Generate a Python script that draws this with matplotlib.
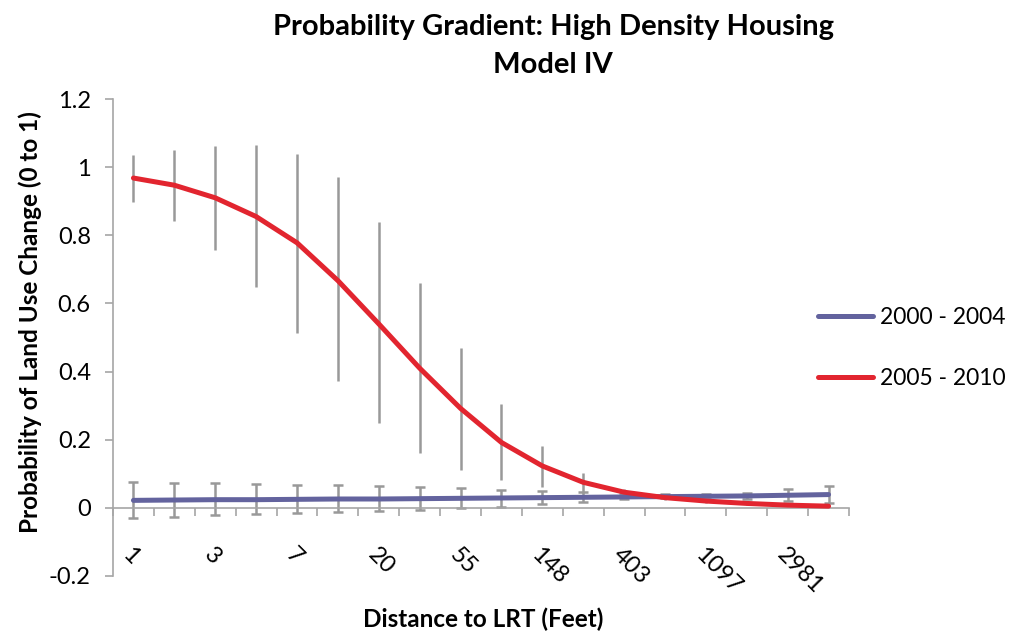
import matplotlib.pyplot as plt
from matplotlib.ticker import FixedLocator

# Distance categories (every second label shown on the axis)
categories = ["1", "2", "3", "4", "7", "12", "20", "33", "55", "90",
              "148", "245", "403", "665", "1097", "1808", "2981", "4915"]

# 2000 - 2004
blue_mean = [0.022, 0.023, 0.024, 0.024, 0.025, 0.026, 0.026, 0.027, 0.028,
             0.029, 0.030, 0.031, 0.032, 0.033, 0.034, 0.035, 0.037, 0.039]
blue_hi = [0.075, 0.073, 0.072, 0.070, 0.068, 0.066, 0.064, 0.061, 0.057,
           0.053, 0.050, 0.047, 0.042, 0.040, 0.040, 0.045, 0.054, 0.065]
blue_lo = [-0.030, -0.026, -0.022, -0.018, -0.015, -0.012, -0.008, -0.005, 0.000,
           0.003, 0.010, 0.016, 0.025, 0.030, 0.032, 0.025, 0.019, 0.015]

# 2005 - 2010
red_mean = [0.968, 0.947, 0.910, 0.855, 0.778, 0.667, 0.540, 0.410, 0.292,
            0.192, 0.123, 0.075, 0.046, 0.030, 0.020, 0.013, 0.008, 0.005]
red_hi = [1.037, 1.050, 1.062, 1.064, 1.040, 0.970, 0.840, 0.660, 0.470,
          0.305, 0.182, 0.102, 0.055, 0.036, 0.025, 0.017, 0.011, 0.007]
red_lo = [0.897, 0.843, 0.758, 0.648, 0.514, 0.372, 0.250, 0.160, 0.110,
          0.082, 0.062, 0.045, 0.036, 0.024, 0.015, 0.009, 0.005, 0.003]

plt.rcParams["font.family"] = ["Lato", "DejaVu Sans"]

BLUE = "#63639E"
RED = "#E2252F"
GREY = "#999999"

fig = plt.figure(figsize=(10.13, 6.44), dpi=100)
ax = fig.add_axes([113 / 1013, 68 / 644, 736 / 1013, 477 / 644])

x = list(range(len(categories)))

# error bars first, lines on top
ax.errorbar(x, red_mean,
            yerr=[[m - lo for m, lo in zip(red_mean, red_lo)],
                  [hi - m for m, hi in zip(red_mean, red_hi)]],
            fmt="none", ecolor=GREY, elinewidth=1.8, capsize=0, zorder=2)
ax.errorbar(x, blue_mean,
            yerr=[[m - lo for m, lo in zip(blue_mean, blue_lo)],
                  [hi - m for m, hi in zip(blue_mean, blue_hi)]],
            fmt="none", ecolor=GREY, elinewidth=1.8, capsize=3.8,
            capthick=1.8, zorder=2)
ax.plot(x, blue_mean, color=BLUE, lw=3.6, solid_capstyle="round",
        label="2000 - 2004", zorder=3)
ax.plot(x, red_mean, color=RED, lw=3.6, solid_capstyle="round",
        label="2005 - 2010", zorder=4)

ax.set_xlim(-0.5, len(categories) - 0.5)
ax.set_ylim(-0.2, 1.2)
ax.set_yticks([-0.2, 0, 0.2, 0.4, 0.6, 0.8, 1, 1.2])
ax.set_yticklabels(["-0.2", "0", "0.2", "0.4", "0.6", "0.8", "1", "1.2"])

ax.spines["top"].set_visible(False)
ax.spines["right"].set_visible(False)
ax.spines["bottom"].set_position(("data", 0))
for s in ("left", "bottom"):
    ax.spines[s].set_color("#A6A6A6")
    ax.spines[s].set_linewidth(1.2)

# category labels every second point, tick marks between categories
ax.set_xticks(x[::2])
ax.set_xticklabels(categories[::2], rotation=-45, ha="left", va="top",
                   rotation_mode="anchor")
ax.xaxis.set_minor_locator(FixedLocator([i - 0.5 for i in range(len(categories) + 1)]))
ax.tick_params(axis="x", which="major", length=0, pad=26, labelsize=17)
ax.tick_params(axis="x", which="minor", length=6, width=1.2, color="#A6A6A6",
               direction="out")
ax.tick_params(axis="y", length=6, width=1.2, color="#A6A6A6", pad=10,
               labelsize=17)

fig.text(0.546, 0.958, "Probability Gradient: High Density Housing",
         ha="center", va="center", fontsize=21, fontweight="bold")
fig.text(0.546, 0.899, "Model IV", ha="center", va="center",
         fontsize=21, fontweight="bold")
fig.text(0.477, 0.038, "Distance to LRT (Feet)", ha="center", va="center",
         fontsize=17.5, fontweight="bold")
fig.text(0.030, 0.500, "Probability of Land Use Change (0 to 1)",
         ha="center", va="center", rotation=90, fontsize=17.5, fontweight="bold")

ax.legend(loc="center left", bbox_to_anchor=(0.945, 0.478), frameon=False,
          fontsize=16.5, handlelength=2.4, labelspacing=1.75, handletextpad=0.3,
          borderaxespad=0)

fig.savefig("out.png", dpi=100)
